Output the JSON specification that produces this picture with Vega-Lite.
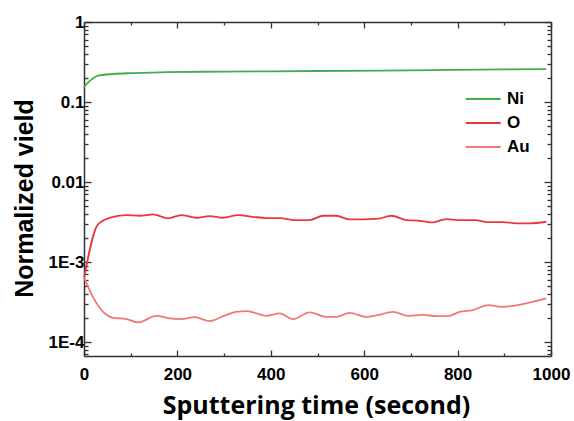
{
  "$schema": "https://vega.github.io/schema/vega-lite/v6.json",
  "autosize": {"type": "none"},
  "padding": {"left": 84, "top": 22, "right": 23, "bottom": 65},
  "width": 467,
  "height": 334,
  "background": "white",
  "config": {
    "view": {"stroke": null},
    "axis": {
      "domainColor": "#333333",
      "domainWidth": 1.5,
      "tickColor": "#333333",
      "tickWidth": 1.3,
      "grid": false,
      "labelFont": "Liberation Sans",
      "labelFontWeight": "bold",
      "labelFontSize": 17,
      "labelColor": "black"
    }
  },
  "data": {
    "values": [
      {"t": 0, "v": 0.155, "s": "Ni"},
      {"t": 30, "v": 0.213, "s": "Ni"},
      {"t": 62, "v": 0.224, "s": "Ni"},
      {"t": 105, "v": 0.23, "s": "Ni"},
      {"t": 176, "v": 0.237, "s": "Ni"},
      {"t": 300, "v": 0.24, "s": "Ni"},
      {"t": 500, "v": 0.244, "s": "Ni"},
      {"t": 700, "v": 0.249, "s": "Ni"},
      {"t": 900, "v": 0.256, "s": "Ni"},
      {"t": 990, "v": 0.258, "s": "Ni"},
      {"t": 0, "v": 0.000625, "s": "O"},
      {"t": 30, "v": 0.00296, "s": "O"},
      {"t": 62, "v": 0.00368, "s": "O"},
      {"t": 91, "v": 0.00387, "s": "O"},
      {"t": 119, "v": 0.00379, "s": "O"},
      {"t": 148, "v": 0.00395, "s": "O"},
      {"t": 180, "v": 0.00352, "s": "O"},
      {"t": 208, "v": 0.00387, "s": "O"},
      {"t": 241, "v": 0.00358, "s": "O"},
      {"t": 269, "v": 0.00376, "s": "O"},
      {"t": 298, "v": 0.00358, "s": "O"},
      {"t": 330, "v": 0.00387, "s": "O"},
      {"t": 362, "v": 0.00368, "s": "O"},
      {"t": 391, "v": 0.00355, "s": "O"},
      {"t": 419, "v": 0.00355, "s": "O"},
      {"t": 451, "v": 0.00335, "s": "O"},
      {"t": 483, "v": 0.00335, "s": "O"},
      {"t": 512, "v": 0.00379, "s": "O"},
      {"t": 540, "v": 0.00379, "s": "O"},
      {"t": 569, "v": 0.00342, "s": "O"},
      {"t": 598, "v": 0.00342, "s": "O"},
      {"t": 630, "v": 0.00348, "s": "O"},
      {"t": 658, "v": 0.00379, "s": "O"},
      {"t": 690, "v": 0.00335, "s": "O"},
      {"t": 719, "v": 0.00328, "s": "O"},
      {"t": 747, "v": 0.00313, "s": "O"},
      {"t": 776, "v": 0.00345, "s": "O"},
      {"t": 804, "v": 0.00335, "s": "O"},
      {"t": 837, "v": 0.00335, "s": "O"},
      {"t": 865, "v": 0.00316, "s": "O"},
      {"t": 897, "v": 0.00316, "s": "O"},
      {"t": 926, "v": 0.00305, "s": "O"},
      {"t": 954, "v": 0.00305, "s": "O"},
      {"t": 990, "v": 0.00319, "s": "O"},
      {"t": 0, "v": 0.000645, "s": "Au"},
      {"t": 19, "v": 0.000368, "s": "Au"},
      {"t": 48, "v": 0.000219, "s": "Au"},
      {"t": 62, "v": 0.000201, "s": "Au"},
      {"t": 91, "v": 0.000194, "s": "Au"},
      {"t": 116, "v": 0.000176, "s": "Au"},
      {"t": 155, "v": 0.000213, "s": "Au"},
      {"t": 183, "v": 0.000198, "s": "Au"},
      {"t": 208, "v": 0.000194, "s": "Au"},
      {"t": 237, "v": 0.000205, "s": "Au"},
      {"t": 269, "v": 0.000183, "s": "Au"},
      {"t": 298, "v": 0.000211, "s": "Au"},
      {"t": 326, "v": 0.000239, "s": "Au"},
      {"t": 348, "v": 0.000244, "s": "Au"},
      {"t": 369, "v": 0.000228, "s": "Au"},
      {"t": 391, "v": 0.000213, "s": "Au"},
      {"t": 419, "v": 0.000228, "s": "Au"},
      {"t": 448, "v": 0.000194, "s": "Au"},
      {"t": 483, "v": 0.000235, "s": "Au"},
      {"t": 519, "v": 0.000207, "s": "Au"},
      {"t": 540, "v": 0.000207, "s": "Au"},
      {"t": 569, "v": 0.000232, "s": "Au"},
      {"t": 605, "v": 0.000207, "s": "Au"},
      {"t": 626, "v": 0.000215, "s": "Au"},
      {"t": 662, "v": 0.000239, "s": "Au"},
      {"t": 694, "v": 0.000213, "s": "Au"},
      {"t": 726, "v": 0.000219, "s": "Au"},
      {"t": 755, "v": 0.000211, "s": "Au"},
      {"t": 779, "v": 0.000211, "s": "Au"},
      {"t": 804, "v": 0.000239, "s": "Au"},
      {"t": 833, "v": 0.000251, "s": "Au"},
      {"t": 865, "v": 0.00029, "s": "Au"},
      {"t": 894, "v": 0.000276, "s": "Au"},
      {"t": 919, "v": 0.000283, "s": "Au"},
      {"t": 947, "v": 0.000305, "s": "Au"},
      {"t": 990, "v": 0.000352, "s": "Au"}
    ]
  },
  "resolve": {"axis": {"x": "independent", "y": "independent"}},
  "layer": [
    {
      "mark": {"type": "line", "strokeWidth": 1.8, "interpolate": "monotone"},
      "encoding": {
        "x": {
          "field": "t", "type": "quantitative",
          "scale": {"domain": [0, 1000], "nice": false, "zero": false},
          "axis": {
            "orient": "bottom",
            "values": [0, 200, 400, 600, 800, 1000],
            "format": "d",
            "tickSize": -6,
            "labelPadding": 16,
            "labelFlush": false,
            "title": "Sputtering time (second)",
            "titleFont": "Open Sans",
            "titleFontWeight": "bold",
            "titleFontSize": 25,
            "titleColor": "black",
            "titleBaseline": "alphabetic",
            "titleY": 57,
            "titleX": 232
          }
        },
        "y": {
          "field": "v", "type": "quantitative",
          "scale": {"type": "log", "domain": [0.000067, 1], "nice": false},
          "axis": {
            "orient": "left",
            "values": [1, 0.1, 0.01, 0.001, 0.0001],
            "labelExpr": "datum.value >= 0.5 ? '1' : datum.value >= 0.05 ? '0.1' : datum.value >= 0.005 ? '0.01' : datum.value >= 0.0005 ? '1E-3' : '1E-4'",
            "tickSize": -7,
            "labelPadding": 7,
            "labelFlush": false,
            "title": "Normalized vield",
            "titleFont": "Liberation Sans",
            "titleFontWeight": "bold",
            "titleFontSize": 25,
            "titleColor": "black",
            "titleAngle": -90,
            "titleBaseline": "alphabetic",
            "titleAlign": "center",
            "titleX": -52,
            "titleY": 176
          }
        },
        "color": {
          "field": "s", "type": "nominal",
          "scale": {"domain": ["Ni", "O", "Au"], "range": ["#3fae4c", "#e8383a", "#f07a72"]},
          "legend": {
            "orient": "none",
            "legendX": 398,
            "legendY": 67,
            "title": null,
            "symbolType": "M-3,0H1",
            "symbolSize": 306,
            "symbolStrokeWidth": 1.8,
            "labelFont": "Liberation Sans",
            "labelFontWeight": "bold",
            "labelFontSize": 17,
            "labelColor": "black",
            "labelOffset": 5,
            "rowPadding": 6
          }
        }
      }
    },
    {
      "mark": {"type": "line", "opacity": 0},
      "encoding": {
        "x": {"field": "t", "type": "quantitative", "axis": {"orient": "bottom", "values": [100, 300, 500, 700, 900], "tickSize": -3, "labels": false, "domain": false, "title": null}},
        "y": {"field": "v", "type": "quantitative", "axis": {"orient": "left", "values": [0.2, 0.3, 0.4, 0.5, 0.6, 0.7, 0.8, 0.9, 0.02, 0.03, 0.04, 0.05, 0.06, 0.07, 0.08, 0.09, 0.002, 0.003, 0.004, 0.005, 0.006, 0.007, 0.008, 0.009, 0.0002, 0.0003, 0.0004, 0.0005, 0.0006, 0.0007, 0.0008, 0.0009, 0.00007, 0.00008, 0.00009], "tickSize": -4, "labels": false, "domain": false, "title": null}},
        "detail": {"field": "s"}
      }
    },
    {
      "mark": {"type": "line", "opacity": 0},
      "encoding": {
        "x": {"field": "t", "type": "quantitative", "axis": {"orient": "top", "values": [0, 200, 400, 600, 800, 1000], "tickSize": -6, "labels": false, "title": null}},
        "y": {"field": "v", "type": "quantitative", "axis": {"orient": "right", "values": [1, 0.1, 0.01, 0.001, 0.0001], "tickSize": -7, "labels": false, "title": null}},
        "detail": {"field": "s"}
      }
    },
    {
      "mark": {"type": "line", "opacity": 0},
      "encoding": {
        "x": {"field": "t", "type": "quantitative", "axis": {"orient": "top", "values": [100, 300, 500, 700, 900], "tickSize": -3, "labels": false, "domain": false, "title": null}},
        "y": {"field": "v", "type": "quantitative", "axis": {"orient": "right", "values": [0.2, 0.3, 0.4, 0.5, 0.6, 0.7, 0.8, 0.9, 0.02, 0.03, 0.04, 0.05, 0.06, 0.07, 0.08, 0.09, 0.002, 0.003, 0.004, 0.005, 0.006, 0.007, 0.008, 0.009, 0.0002, 0.0003, 0.0004, 0.0005, 0.0006, 0.0007, 0.0008, 0.0009, 0.00007, 0.00008, 0.00009], "tickSize": -4, "labels": false, "domain": false, "title": null}},
        "detail": {"field": "s"}
      }
    }
  ]
}
